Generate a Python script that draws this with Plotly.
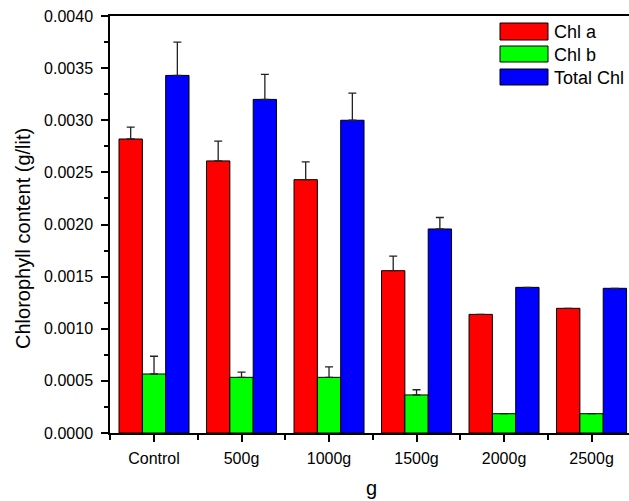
import plotly.graph_objects as go

categories = ["Control", "500g", "1000g", "1500g", "2000g", "2500g"]
chl_a = [0.00282, 0.00261, 0.00243, 0.001557, 0.001138, 0.001196]
chl_a_err = [0.000115, 0.00019, 0.00017, 0.00014, 0.0, 0.0]
chl_b = [0.000566, 0.000534, 0.000534, 0.000365, 0.000185, 0.000185]
chl_b_err = [0.00017, 0.00005, 0.0001, 0.00005, 0.0, 0.0]
total = [0.00343, 0.0032, 0.003, 0.001957, 0.001397, 0.001388]
total_err = [0.00032, 0.00024, 0.00026, 0.00011, 0.0, 0.0]
series_names = ["Chl a", "Chl b", "Total Chl"]
colors = ["#FF0000", "#00FF00", "#0000FF"]

W, H = 629, 501
L, R, T, B = 110, 0, 16, 68
FONT = "Liberation Sans, Arial, sans-serif"

xs = list(range(len(categories)))
fig = go.Figure()
for name, vals, errs, col in zip(series_names, [chl_a, chl_b, total],
                                 [chl_a_err, chl_b_err, total_err], colors):
    fig.add_trace(go.Bar(
        x=xs, y=vals, name=name,
        marker=dict(color=col, line=dict(color="black", width=1)),
        error_y=dict(type="data", array=errs, arrayminus=[0] * len(errs),
                     symmetric=False, color="#222", thickness=1.3, width=4,
                     visible=True),
        showlegend=False,
    ))

pw = W - L - R
ph = H - T - B


def px_x(p):
    return (p - L) / pw


def px_y(p):
    return 1 - (p - T) / ph


# manual legend (swatch pixel boxes converted to paper coords)
rows = [(23, 40), (46, 62), (69, 85)]
for (y0, y1), name, col in zip(rows, series_names, colors):
    fig.add_shape(type="rect", xref="paper", yref="paper",
                  x0=px_x(500), x1=px_x(548), y0=px_y(y1), y1=px_y(y0),
                  fillcolor=col, line=dict(color="black", width=1))
    fig.add_annotation(xref="paper", yref="paper",
                       x=px_x(552), y=px_y((y0 + y1) / 2 + 1),
                       text=name, showarrow=False, xanchor="left",
                       yanchor="middle", xshift=0,
                       font=dict(family=FONT, size=18, color="black"))

# axis titles
fig.add_annotation(xref="paper", yref="paper", x=px_x(23), y=px_y(239),
                   text="Chlorophyll content (g/lit)", textangle=-90,
                   showarrow=False, xanchor="center", yanchor="middle",
                   font=dict(family=FONT, size=20, color="black"))
fig.add_annotation(xref="paper", yref="paper", x=px_x(371), y=px_y(488),
                   text="g", showarrow=False, xanchor="center",
                   yanchor="middle",
                   font=dict(family=FONT, size=20, color="black"))

fig.update_layout(
    width=W, height=H,
    margin=dict(l=L, r=R, t=T, b=B, pad=0),
    plot_bgcolor="white", paper_bgcolor="white",
    barmode="group", bargap=0.2, bargroupgap=0,
    font=dict(family=FONT, color="black"),
)
fig.update_xaxes(
    range=[-0.503, 5.428],
    tickmode="array", tickvals=xs, ticktext=categories,
    ticks="outside", ticklen=7, tickwidth=1.5, tickcolor="black",
    minor=dict(tickmode="array", tickvals=[i - 0.5 for i in range(len(categories) + 1)],
               ticks="outside", ticklen=5, tickwidth=1.5, tickcolor="black"),
    showline=True, linecolor="black", linewidth=1.5, mirror=True,
    showgrid=False, zeroline=False, ticklabelstandoff=3,
    tickfont=dict(size=16, family=FONT),
)
fig.update_yaxes(
    range=[0, 0.004], dtick=0.0005, tick0=0, tickformat=".4f",
    ticks="outside", ticklen=7, tickwidth=1.5, tickcolor="black",
    minor=dict(dtick=0.00025, tick0=0, ticks="outside", ticklen=4,
               tickwidth=1.5, tickcolor="black"),
    showline=True, linecolor="black", linewidth=1.5, mirror=False,
    showgrid=False, zeroline=False, ticklabelstandoff=5,
    tickfont=dict(size=16, family=FONT),
)

fig.write_html("out.html", config={"displayModeBar": False},
               post_script="document.body.style.margin='0px';")
